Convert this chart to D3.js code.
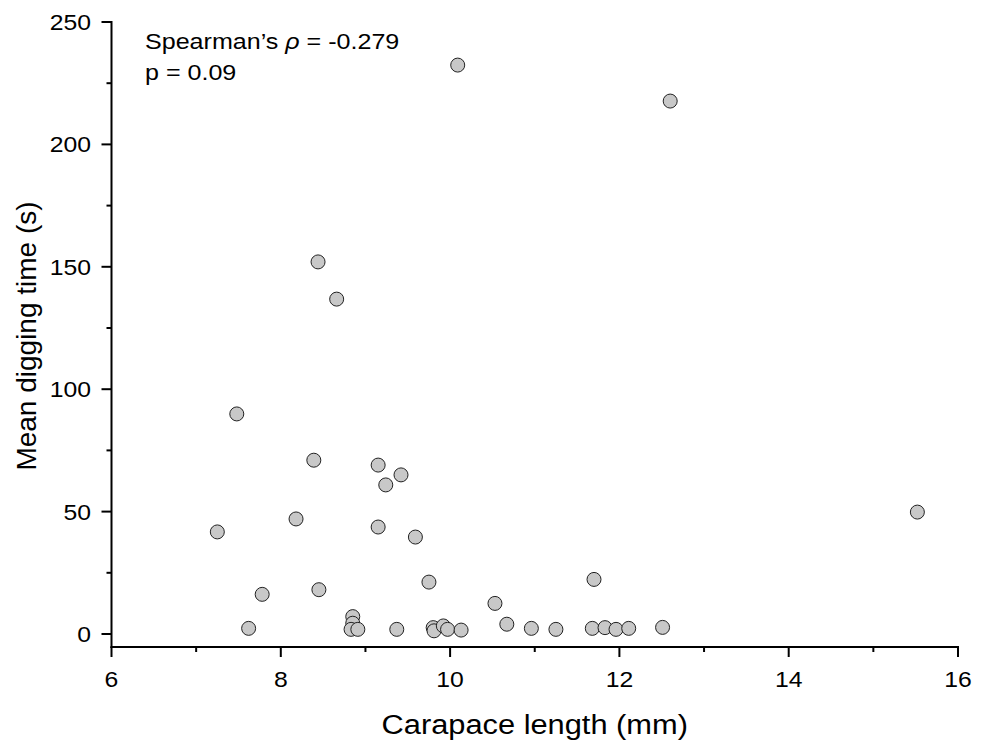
<!DOCTYPE html>
<html><head><meta charset="utf-8">
<script src="https://cdn.jsdelivr.net/npm/d3@7"></script>
<style>body{margin:0;background:#fff}svg{display:block}text{font-family:"Liberation Sans",Arial,sans-serif;fill:#000}</style>
</head><body>
<svg id="c" width="984" height="740"></svg>
<script>
const carapace = [7.25,7.48,7.62,7.78,8.18,8.39,8.44,8.45,8.66,8.85,8.85,8.83,8.91,9.15,9.15,9.24,9.42,9.37,9.59,9.75,9.80,9.81,9.92,9.97,10.13,10.09,10.53,10.67,10.96,11.25,11.70,11.68,11.83,11.96,12.11,12.51,12.60,15.52];
const digging = [41.7,89.9,2.3,16.2,47,71,152,18.1,136.8,7.1,4.4,1.9,1.9,69,43.7,60.9,65,1.9,39.6,21.2,2.6,1.3,3.3,1.9,1.6,232.4,12.5,4.0,2.3,1.9,22.3,2.3,2.6,1.9,2.3,2.7,217.7,49.8];
const xTicks = [6,8,10,12,14,16];
const yTicks = [0,50,100,150,200,250];
const xMinor = [7,9,11,13,15];
const yMinor = [25,75,125,175,225];

const svg = d3.select("#c");
const x = d3.scaleLinear().domain([6,16]).range([111.5,958]);
const y = d3.scaleLinear().domain([0,250]).range([634,22]);
const axisY = 647;
const sx = 1.1;

function txt(g, px, py, str, size, anchor){
  return g.append("text").attr("transform",`translate(${px},${py}) scale(${sx},1)`)
    .attr("text-anchor",anchor||"start").attr("font-size",size).text(str);
}

// x axis
const gx = svg.append("g");
gx.append("line").attr("x1",x(6)-1).attr("x2",x(16)+1).attr("y1",axisY).attr("y2",axisY).attr("stroke","#000").attr("stroke-width",2);
gx.selectAll(".mj").data(xTicks).join("line").attr("x1",d=>x(d)).attr("x2",d=>x(d)).attr("y1",axisY).attr("y2",axisY+10).attr("stroke","#000").attr("stroke-width",2);
gx.selectAll(".mn").data(xMinor).join("line").attr("x1",d=>x(d)).attr("x2",d=>x(d)).attr("y1",axisY).attr("y2",axisY+5).attr("stroke","#000").attr("stroke-width",2);
xTicks.forEach(d=>txt(gx, x(d), 687, d, 22.5, "middle"));

// y axis
const gy = svg.append("g");
gy.append("line").attr("x1",x(6)).attr("x2",x(6)).attr("y1",axisY+1).attr("y2",y(250)-1).attr("stroke","#000").attr("stroke-width",2);
gy.selectAll(".mj").data(yTicks).join("line").attr("x1",x(6)).attr("x2",x(6)-10).attr("y1",d=>y(d)).attr("y2",d=>y(d)).attr("stroke","#000").attr("stroke-width",2);
gy.selectAll(".mn").data(yMinor).join("line").attr("x1",x(6)).attr("x2",x(6)-5).attr("y1",d=>y(d)).attr("y2",d=>y(d)).attr("stroke","#000").attr("stroke-width",2);
yTicks.forEach(d=>txt(gy, 91, y(d)+8, d, 22.5, "end"));

// titles
txt(svg, x(11), 734, "Carapace length (mm)", 28, "middle");
svg.append("text").attr("transform","translate(36,336) rotate(-90)").attr("text-anchor","middle").attr("font-size",28).text("Mean digging time (s)");

// annotation
const t1 = svg.append("text").attr("transform",`translate(145,48.5) scale(${sx},1)`).attr("font-size",22.8);
t1.append("tspan").text("Spearman\u2019s ");
t1.append("tspan").attr("font-style","italic").text("\u03C1");
t1.append("tspan").text(" = -0.279");
txt(svg, 145, 79.5, "p = 0.09", 22.8);

// points
svg.append("g").selectAll("circle").data(carapace.map((c,i)=>[c,digging[i]])).join("circle")
  .attr("cx",d=>x(d[0])).attr("cy",d=>y(d[1])).attr("r",7)
  .attr("fill","#c8c8c8").attr("stroke","#222").attr("stroke-width",1);
</script>
</body></html>
